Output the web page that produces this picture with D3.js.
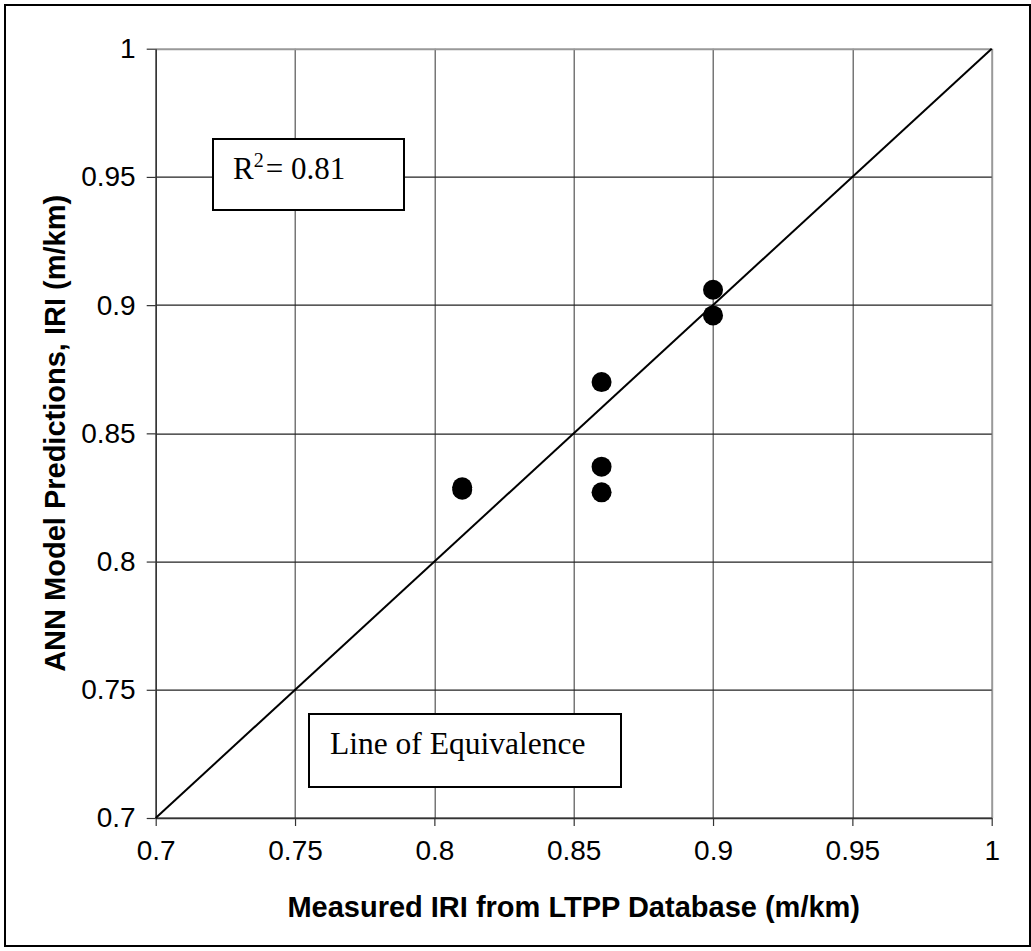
<!DOCTYPE html>
<html>
<head>
<meta charset="utf-8">
<script src="https://cdn.jsdelivr.net/npm/d3@7"></script>
<style>
  body { margin: 0; background: #fff; }
  svg { display: block; }
</style>
</head>
<body>
<div id="chart"></div>
<script>
'use strict';

// measured vs predicted IRI (m/km)
var measured  = [0.81, 0.81, 0.86, 0.86, 0.86, 0.90, 0.90];
var predicted = [0.829, 0.828, 0.870, 0.837, 0.827, 0.906, 0.896];
var tickValues = [0.7, 0.75, 0.8, 0.85, 0.9, 0.95, 1];
var equivLine = [[0.7, 0.7], [1, 1]];
var rSquared = '0.81';
var xTitle = 'Measured IRI from LTPP Database (m/km)';
var yTitle = 'ANN Model Predictions, IRI (m/km)';
var lineLabel = 'Line of Equivalence';

var W = 1031, H = 951;
var margin = {top: 48.7, right: 39.3, bottom: 133, left: 155.7};
var width = W - margin.left - margin.right;
var height = H - margin.top - margin.bottom;

var svg = d3.select('#chart').append('svg')
	.attr('width', W)
	.attr('height', H);

// outer chart border
svg.append('rect')
	.attr('x', 5).attr('y', 5)
	.attr('width', 1025).attr('height', 941)
	.style('fill', '#fff')
	.style('stroke', '#000')
	.style('stroke-width', 2);

var g = svg.append('g')
	.attr('transform', 'translate(' + margin.left + ',' + margin.top + ')');

var x = d3.scaleLinear().domain([0.7, 1]).range([0, width]);
var y = d3.scaleLinear().domain([0.7, 1]).range([height, 0]);
var fmt = function(d){ return String(+d.toFixed(2)); };

// gridlines
g.append('g')
	.selectAll('line.v')
	.data(tickValues)
	.join('line')
		.attr('x1', function(d){ return Math.round(x(d)) + 0.5; })
		.attr('x2', function(d){ return Math.round(x(d)) + 0.5; })
		.attr('y1', 0).attr('y2', height)
		.style('stroke', function(d){ return d === 1 ? '#999' : '#555'; })
		.style('stroke-width', function(d){ return d === 1 ? 2 : 1.2; });

g.append('g')
	.selectAll('line.h')
	.data(tickValues)
	.join('line')
		.attr('y1', function(d){ return Math.round(y(d)) + 0.5; })
		.attr('y2', function(d){ return Math.round(y(d)) + 0.5; })
		.attr('x1', 0).attr('x2', width)
		.style('stroke', function(d){ return d === 1 ? '#999' : '#222'; })
		.style('stroke-width', function(d){ return d === 1 ? 2 : 1.2; });

// axes
var xAxis = g.append('g')
	.attr('transform', 'translate(0,' + height + ')')
	.call(d3.axisBottom(x).tickValues(tickValues).tickFormat(fmt).tickSizeInner(8).tickSizeOuter(0).tickPadding(14));
var yAxis = g.append('g')
	.call(d3.axisLeft(y).tickValues(tickValues).tickFormat(fmt).tickSizeInner(9).tickSizeOuter(0).tickPadding(11));

[xAxis, yAxis].forEach(function(a){
	a.select('.domain').style('stroke', '#333').style('stroke-width', 1.5);
	a.selectAll('.tick line').style('stroke', '#333').style('stroke-width', 1.2);
	a.selectAll('text')
		.style('font-family', 'Arial, "Liberation Sans", sans-serif')
		.style('font-size', '28px')
		.style('fill', '#000');
});

// line of equivalence
g.append('path')
	.datum(equivLine)
	.attr('d', d3.line().x(function(d){ return x(d[0]); }).y(function(d){ return y(d[1]); }))
	.style('fill', 'none')
	.style('stroke', '#000')
	.style('stroke-width', 2);

// points
g.selectAll('circle.pt')
	.data(measured)
	.join('circle')
		.attr('cx', function(d){ return x(d); })
		.attr('cy', function(d, i){ return y(predicted[i]); })
		.attr('r', 10)
		.style('fill', '#000');

// R² box
svg.append('rect')
	.attr('x', 213).attr('y', 139)
	.attr('width', 191).attr('height', 71)
	.style('fill', '#fff').style('stroke', '#000').style('stroke-width', 2);
var rt = svg.append('text')
	.attr('x', 233).attr('y', 179)
	.style('font-family', '"Times New Roman", "Liberation Serif", serif')
	.style('font-size', '31px')
	.style('fill', '#000');
rt.append('tspan').text('R');
rt.append('tspan').attr('dy', -12).style('font-size', '20px').text('2');
rt.append('tspan').attr('dy', 12).attr('dx', 2).text('= ' + rSquared);

// line label box
svg.append('rect')
	.attr('x', 309).attr('y', 714)
	.attr('width', 312).attr('height', 73)
	.style('fill', '#fff').style('stroke', '#000').style('stroke-width', 2);
svg.append('text')
	.attr('x', 330).attr('y', 754)
	.style('font-family', '"Times New Roman", "Liberation Serif", serif')
	.style('font-size', '31.5px')
	.style('fill', '#000')
	.text(lineLabel);

// axis titles
svg.append('text')
	.attr('x', margin.left + width / 2)
	.attr('y', 917)
	.attr('text-anchor', 'middle')
	.style('font-family', 'Arial, "Liberation Sans", sans-serif')
	.style('font-weight', 'bold')
	.style('font-size', '29px')
	.text(xTitle);

svg.append('text')
	.attr('transform', 'translate(65,' + (margin.top + height / 2) + ') rotate(-90)')
	.attr('text-anchor', 'middle')
	.style('font-family', 'Arial, "Liberation Sans", sans-serif')
	.style('font-weight', 'bold')
	.style('font-size', '29px')
	.text(yTitle);
</script>
</body>
</html>
